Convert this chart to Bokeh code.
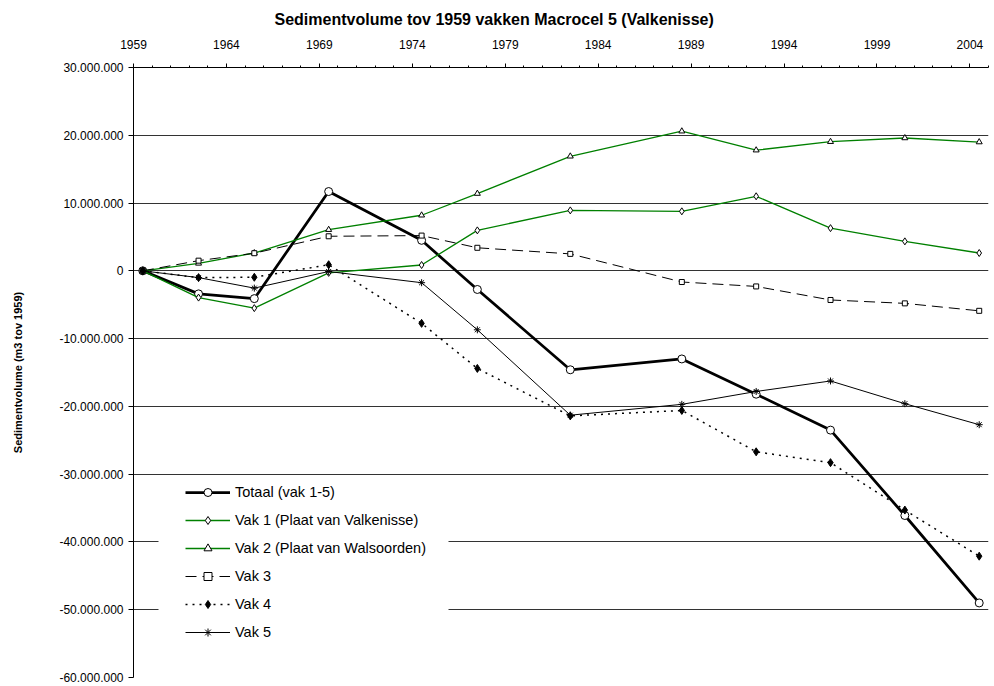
from bokeh.plotting import figure
from bokeh.models import (Range1d, FixedTicker, Legend, LegendItem, BoxAnnotation)
from bokeh.embed import file_html
from bokeh.resources import INLINE

# ---- data ----
years = [1959, 1962, 1965, 1969, 1974, 1977, 1982, 1988, 1992, 1996, 2000, 2004]
totaal = [0, -3.4e6, -4.1e6, 11.7e6, 4.5e6, -2.75e6, -14.6e6, -13.0e6, -18.2e6, -23.5e6, -36.1e6, -49.0e6]
vak1 = [0, -3.95e6, -5.5e6, -0.3e6, 0.86e6, 5.97e6, 8.92e6, 8.78e6, 11.0e6, 6.3e6, 4.35e6, 2.63e6]
vak2 = [0, 1.1e6, 2.63e6, 6.07e6, 8.2e6, 11.4e6, 16.9e6, 20.6e6, 17.8e6, 19.05e6, 19.6e6, 19.0e6]
vak3 = [0, 1.5e6, 2.6e6, 5.1e6, 5.2e6, 3.4e6, 2.5e6, -1.65e6, -2.3e6, -4.3e6, -4.8e6, -5.9e6]
vak4 = [0, -1.0e6, -0.95e6, 0.9e6, -7.75e6, -14.4e6, -21.4e6, -20.6e6, -26.7e6, -28.3e6, -35.3e6, -42.1e6]
vak5 = [0, -1.0e6, -2.55e6, -0.1e6, -1.75e6, -8.7e6, -21.3e6, -19.7e6, -17.8e6, -16.25e6, -19.6e6, -22.7e6]

series_names = ["Totaal (vak 1-5)", "Vak 1 (Plaat van Valkenisse)", "Vak 2 (Plaat van Walsoorden)",
                "Vak 3", "Vak 4", "Vak 5"]

x_ticks = [1959, 1964, 1969, 1974, 1979, 1984, 1989, 1994, 1999, 2004]
x_tick_labels = ["1959", "1964", "1969", "1974", "1979", "1984", "1989", "1994", "1999", "2004"]
y_ticks = [30e6, 20e6, 10e6, 0, -10e6, -20e6, -30e6, -40e6, -50e6, -60e6]
y_tick_labels = ["30.000.000", "20.000.000", "10.000.000", "0", "-10.000.000", "-20.000.000",
                 "-30.000.000", "-40.000.000", "-50.000.000", "-60.000.000"]

title_text = "Sedimentvolume tov 1959 vakken Macrocel 5  (Valkenisse)"
y_label = "Sedimentvolume (m3 tov 1959)"

# measurements are taken mid-year
xs = [y + 0.5 for y in years]

FONT = "Liberation Sans"
GREEN = "#008000"

p = figure(width=994, height=686, x_range=Range1d(1959, 2005), y_range=Range1d(-60e6, 30e6),
           x_axis_location="above", output_backend="svg", toolbar_location=None,
           min_border_left=133, min_border_right=6, min_border_top=67, min_border_bottom=9)

p.outline_line_color = None
p.background_fill_color = "white"

# title
p.title.text = title_text
p.title.align = "left"
p.title.offset = 141
p.title.vertical_align = "top"
p.title.standoff = 14
p.title.text_font = FONT
p.title.text_font_size = "16px"
p.title.text_font_style = "bold"
p.title.text_color = "black"

# x axis (top)
xa = p.xaxis[0]
xa.ticker = FixedTicker(ticks=x_ticks, minor_ticks=list(range(1959, 2006)))
xa.major_label_overrides = {t: l for t, l in zip(x_ticks, x_tick_labels)}
xa.major_tick_out = 4
xa.major_tick_in = 0
xa.minor_tick_out = 2
xa.minor_tick_in = 0
xa.major_label_standoff = 15
xa.major_label_text_font = FONT
xa.major_label_text_font_size = "12px"
xa.major_label_text_color = "black"
xa.axis_line_color = "black"
xa.major_tick_line_color = "black"
xa.minor_tick_line_color = "black"

# y axis
ya = p.yaxis[0]
ya.ticker = FixedTicker(ticks=y_ticks)
ya.major_label_overrides = {t: l for t, l in zip(y_ticks, y_tick_labels)}
ya.major_tick_out = 5
ya.major_tick_in = 0
ya.minor_tick_line_color = None
ya.major_label_standoff = 5
ya.major_label_text_font = FONT
ya.major_label_text_font_size = "12px"
ya.major_label_text_color = "black"
ya.axis_line_color = "black"
ya.major_tick_line_color = "black"
ya.axis_label = y_label
ya.axis_label_text_font = FONT
ya.axis_label_text_font_size = "11px"
ya.axis_label_text_font_style = "bold"
ya.axis_label_text_color = "black"
ya.axis_label_standoff = 32

p.xgrid.visible = False
p.ygrid.ticker = FixedTicker(ticks=y_ticks)
p.ygrid.grid_line_color = "#333333"
p.ygrid.grid_line_width = 1

# series
renderers = []

l0 = p.line(xs, totaal, line_color="black", line_width=2.75)
m0 = p.scatter(xs, totaal, marker="circle", size=8, fill_color="white", line_color="black", line_width=1)
renderers.append([l0, m0])

l1 = p.line(xs, vak1, line_color=GREEN, line_width=1.3)
m1 = p.scatter(xs, vak1, marker="diamond", size=7, fill_color="white", line_color="black", line_width=1)
renderers.append([l1, m1])

l2 = p.line(xs, vak2, line_color=GREEN, line_width=1.3)
m2 = p.scatter(xs, vak2, marker="triangle", size=6, fill_color="white", line_color="black", line_width=1)
renderers.append([l2, m2])

l3 = p.line(xs, vak3, line_color="black", line_width=1, line_dash="11 6")
m3 = p.scatter(xs, vak3, marker="square", size=5, fill_color="white", line_color="black", line_width=1)
renderers.append([l3, m3])

l4 = p.line(xs, vak4, line_color="black", line_width=1.5, line_dash="2 5")
m4 = p.scatter(xs, vak4, marker="diamond", size=8, fill_color="black", line_color="black", line_width=1)
renderers.append([l4, m4])

l5 = p.line(xs, vak5, line_color="black", line_width=1)
m5 = p.scatter(xs, vak5, marker="asterisk", size=7, line_color="black", line_width=1)
renderers.append([l5, m5])

# white background behind the legend
box = BoxAnnotation(left=25, right=315, bottom=17, top=199,
                    left_units="screen", right_units="screen", top_units="screen", bottom_units="screen",
                    fill_color="white", fill_alpha=1.0, line_alpha=0)
p.add_layout(box)

legend = Legend(items=[LegendItem(label=n, renderers=r) for n, r in zip(series_names, renderers)],
                location=(47, 30), padding=5, spacing=8, margin=0,
                glyph_width=45, glyph_height=20, label_height=20, label_standoff=5,
                label_text_font=FONT, label_text_font_size="14.5px", label_text_color="black",
                background_fill_alpha=0, border_line_alpha=0)
p.add_layout(legend)

open("out.html", "w").write(file_html(p, INLINE))
